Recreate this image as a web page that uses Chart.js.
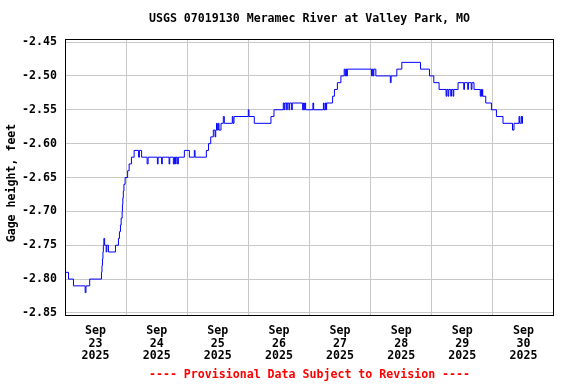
<!DOCTYPE html>
<html>
<head>
<meta charset="utf-8">
<script src="https://cdn.jsdelivr.net/npm/chart.js@4"></script>
<style>
  body { margin: 0; background: #fff; }
</style>
</head>
<body>
<canvas id="gageChart" width="576" height="384"></canvas>
<script>
// Hours since Sep 23 2025 00:00 and gage height (feet) at each change
const hours = [
  0, 1.37, 3.33, 7.92, 8.24, 9.69, 14.32, 14.51, 14.71, 14.90,
  15.06, 15.26, 15.57, 16.16, 16.43, 17.06, 19.81, 20.98, 21.37, 21.77,
  22.04, 22.43, 22.55, 22.71, 22.90, 23.14, 23.61, 24.59, 25.18, 26.08,
  27.14, 28.90, 29.22, 30.08, 32.24, 32.63, 36.28, 36.55, 37.93, 38.20,
  40.87, 41.14, 42.55, 43.02, 43.42, 43.61, 44.12, 44.51, 46.87, 48.83,
  50.79, 51.07, 55.50, 56.36, 57.22, 58.24, 58.91, 59.18, 59.50, 59.81,
  60.20, 60.48, 61.26, 62.16, 62.56, 65.69, 65.97, 66.36, 71.97, 72.24,
  74.32, 80.87, 82.05, 85.70, 86.09, 86.36, 87.03, 87.27, 87.93, 88.21,
  88.99, 89.23, 93.30, 93.70, 93.93, 94.20, 94.48, 97.34, 97.62, 101.46,
  101.73, 102.24, 102.52, 102.72, 105.07, 105.78, 106.95, 108.33, 109.62, 110.01,
  110.29, 110.56, 110.87, 120.37, 120.68, 121.00, 121.27, 122.05, 127.74, 128.05,
  130.29, 132.25, 139.58, 143.11, 144.80, 146.88, 149.62, 149.90, 150.41, 150.69,
  151.47, 151.74, 152.37, 152.65, 154.33, 156.57, 156.84, 158.13, 158.40, 159.50,
  159.78, 160.60, 163.04, 163.31, 163.55, 163.82, 164.02, 165.20, 167.43, 169.39,
  171.98, 175.71, 176.30, 178.26, 178.53, 179.12, 179.40, 179.63, 179.83
];
const gageHeight = [
  -2.79, -2.80, -2.81, -2.82, -2.81, -2.80, -2.79, -2.78, -2.77, -2.76,
  -2.75, -2.74, -2.75, -2.76, -2.75, -2.76, -2.75, -2.74, -2.73, -2.72,
  -2.71, -2.70, -2.69, -2.68, -2.67, -2.66, -2.65, -2.64, -2.63, -2.62,
  -2.61, -2.62, -2.61, -2.62, -2.63, -2.62, -2.63, -2.62, -2.63, -2.62,
  -2.63, -2.62, -2.63, -2.62, -2.63, -2.62, -2.63, -2.62, -2.61, -2.62,
  -2.61, -2.62, -2.61, -2.60, -2.59, -2.58, -2.59, -2.58, -2.57, -2.58,
  -2.57, -2.58, -2.57, -2.56, -2.57, -2.56, -2.57, -2.56, -2.55, -2.56,
  -2.57, -2.56, -2.55, -2.54, -2.55, -2.54, -2.55, -2.54, -2.55, -2.54,
  -2.55, -2.54, -2.55, -2.54, -2.55, -2.54, -2.55, -2.54, -2.55, -2.54,
  -2.55, -2.54, -2.55, -2.54, -2.53, -2.52, -2.51, -2.50, -2.49, -2.50,
  -2.49, -2.50, -2.49, -2.50, -2.49, -2.50, -2.49, -2.50, -2.51, -2.50,
  -2.49, -2.48, -2.49, -2.50, -2.51, -2.52, -2.53, -2.52, -2.53, -2.52,
  -2.53, -2.52, -2.53, -2.52, -2.51, -2.52, -2.51, -2.52, -2.51, -2.52,
  -2.51, -2.52, -2.53, -2.52, -2.53, -2.52, -2.53, -2.54, -2.55, -2.56,
  -2.57, -2.58, -2.57, -2.56, -2.57, -2.56, -2.57, -2.56, -2.56
];

const yTicks = [-2.85, -2.80, -2.75, -2.70, -2.65, -2.60, -2.55, -2.50, -2.45];
const xTickHours = [0, 12, 24, 36, 48, 60, 72, 84, 96, 108, 120, 132, 144, 156, 168, 180, 192];
const dayLabels = ['23', '24', '25', '26', '27', '28', '29', '30'];

const chartTitle = 'USGS 07019130 Meramec River at Valley Park, MO';
const yTitle = 'Gage height, feet';
const footerText = '---- Provisional Data Subject to Revision ----';

const monoFont = { family: '"DejaVu Sans Mono", monospace', size: 11.6, weight: 'bold', lineHeight: 1.12 };
const fontStr = 'bold 11.6px "DejaVu Sans Mono", monospace';

// frame round the plot plus title, y label and footer
const frameAndText = {
  id: 'frameAndText',
  afterDraw(chart) {
    const { ctx, chartArea: a } = chart;
    ctx.save();
    ctx.strokeStyle = '#000';
    ctx.lineWidth = 1;
    ctx.strokeRect(a.left + 0.5, a.top + 0.5, a.right - a.left - 1, a.bottom - a.top - 1);
    ctx.font = fontStr;
    ctx.textAlign = 'center';
    ctx.textBaseline = 'middle';
    ctx.fillStyle = '#000';
    const cx = (a.left + a.right) / 2;
    ctx.fillText(chartTitle, cx, 19);
    ctx.fillStyle = '#ff0000';
    ctx.fillText(footerText, cx, 375);
    ctx.fillStyle = '#000';
    ctx.translate(12, 183);
    ctx.rotate(-Math.PI / 2);
    ctx.fillText(yTitle, 0, 0);
    ctx.restore();
  }
};

const ctx = document.getElementById('gageChart').getContext('2d');
const gageChart = new Chart(ctx, {
  type: 'line',
  data: {
    datasets: [{
      label: 'Gage height',
      data: hours.map((h, i) => ({ x: h, y: gageHeight[i] })),
      borderColor: '#0000ff',
      borderWidth: 1,
      stepped: true,
      pointRadius: 0,
      fill: false
    }]
  },
  options: {
    responsive: false,
    animation: false,
    layout: { padding: { top: 39, right: 22, bottom: 0, left: 0 } },
    plugins: {
      legend: { display: false },
      tooltip: { enabled: false }
    },
    scales: {
      x: {
        type: 'linear',
        min: 0,
        max: 192,
        afterFit: scale => { scale.height = 68; },
        afterBuildTicks: scale => { scale.ticks = xTickHours.map(v => ({ value: v })); },
        border: { display: false },
        grid: {
          drawTicks: false,
          color: c => (c.tick && c.tick.value % 24 === 0 && c.tick.value > 0 && c.tick.value < 192) ? '#c8c8c8' : 'rgba(0,0,0,0)',
          lineWidth: 1
        },
        ticks: {
          autoSkip: false,
          maxRotation: 0,
          padding: 8,
          color: '#000',
          font: monoFont,
          callback: v => (v % 24 === 12) ? ['Sep', dayLabels[(v - 12) / 24], '2025'] : ''
        }
      },
      y: {
        min: -2.8545,
        max: -2.4455,
        afterFit: scale => { scale.width = 65; },
        afterBuildTicks: scale => { scale.ticks = yTicks.map(v => ({ value: v })); },
        border: { display: false },
        grid: { drawTicks: false, color: '#c8c8c8', lineWidth: 1 },
        ticks: {
          padding: 8,
          color: '#000',
          font: monoFont,
          callback: v => v.toFixed(2)
        }
      }
    }
  },
  plugins: [frameAndText]
});
</script>
</body>
</html>
